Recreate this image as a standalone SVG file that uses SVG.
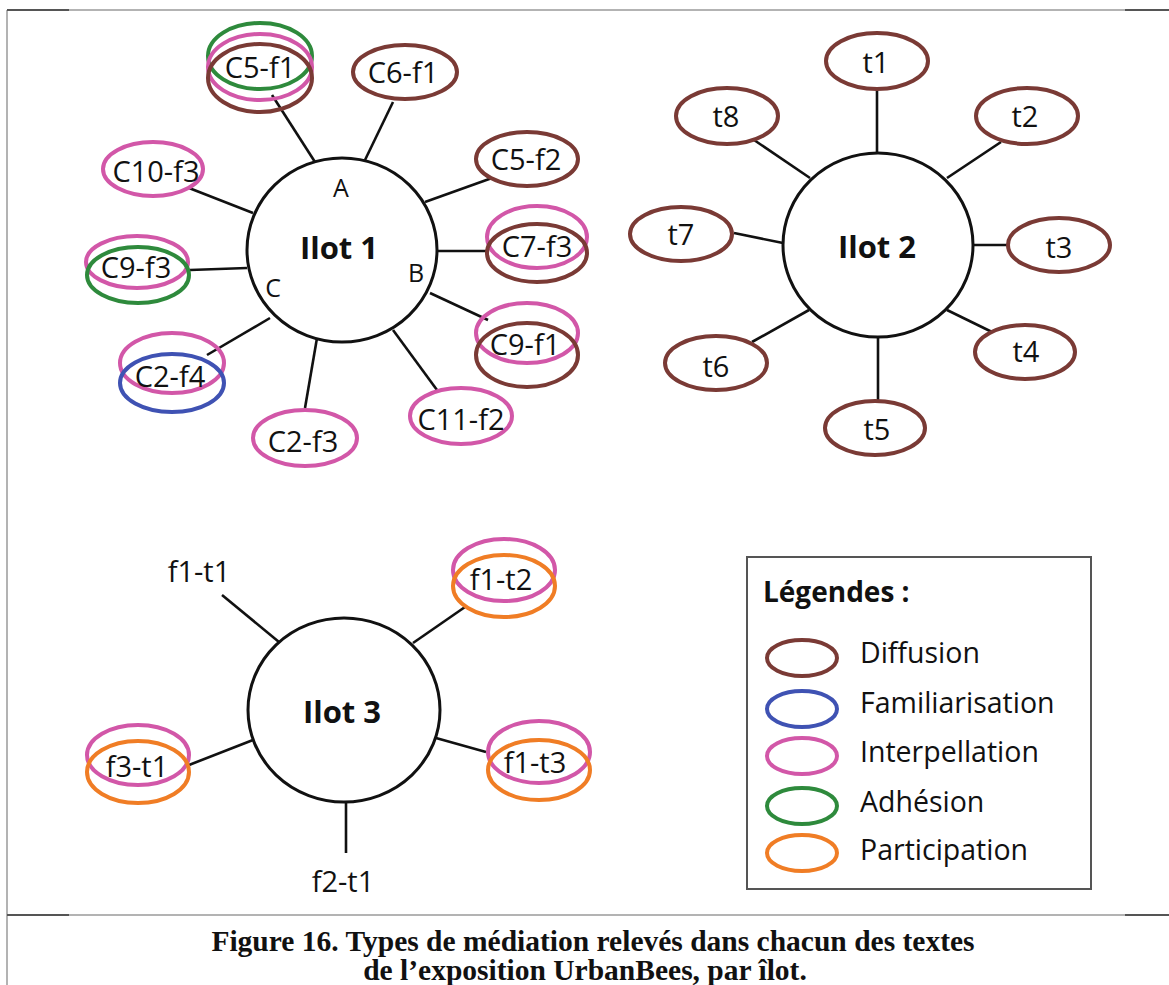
<svg xmlns="http://www.w3.org/2000/svg" width="1169" height="985" viewBox="0 0 1169 985">
<style>
.frame{stroke:#9a9a9a;stroke-width:1.5;fill:none}
.frameD{stroke:#555;stroke-width:2;fill:none}
.hub{fill:#fff;stroke:#111;stroke-width:3}
.link{stroke:#111;stroke-width:2.6;fill:none}
.e{fill:none;stroke-width:4}
.dif{stroke:#7a3a35}
.fam{stroke:#3f52b3}
.int{stroke:#d257a8}
.adh{stroke:#2e8a3c}
.par{stroke:#f07d25}
.lbl{font-family:"Open Sans","Noto Sans",sans-serif;font-size:29px;fill:#111;text-anchor:middle}
.abc{font-family:"Open Sans","Noto Sans",sans-serif;font-size:25px;fill:#111;text-anchor:middle}
.hubt{font-family:"Open Sans","Noto Sans",sans-serif;font-size:31px;font-weight:bold;fill:#111;text-anchor:middle}
.leg{font-family:"Open Sans","Noto Sans",sans-serif;font-size:28.5px;fill:#111}
.legt{font-family:"Open Sans","Noto Sans",sans-serif;font-size:28px;font-weight:bold;fill:#111}
.cap{font-family:"Liberation Serif","Times New Roman",serif;font-size:29.5px;font-weight:bold;fill:#111;text-anchor:middle}
</style>
<rect width="1169" height="985" fill="#fff"/>
<g id="frame">
<line class="frame" x1="7" y1="10" x2="1169" y2="10"/>
<line class="frame" x1="7" y1="10" x2="7" y2="985"/>
<line class="frame" x1="7" y1="915" x2="1169" y2="915"/>
<line class="frameD" x1="7" y1="10" x2="69" y2="10"/>
<line class="frameD" x1="1125" y1="10" x2="1169" y2="10"/>
<line class="frameD" x1="7" y1="915" x2="69" y2="915"/>
<line class="frameD" x1="1125" y1="915" x2="1169" y2="915"/>
</g>
<g id="connectors">
<line class="link" x1="272" y1="95" x2="315" y2="162"/>
<line class="link" x1="393" y1="102" x2="365" y2="160"/>
<line class="link" x1="492" y1="178" x2="425" y2="202"/>
<line class="link" x1="189" y1="188" x2="253" y2="213"/>
<line class="link" x1="437" y1="251" x2="487" y2="251"/>
<line class="link" x1="190" y1="270" x2="247" y2="268"/>
<line class="link" x1="430" y1="293" x2="488" y2="320"/>
<line class="link" x1="207" y1="355" x2="270" y2="318"/>
<line class="link" x1="305" y1="408" x2="317" y2="338"/>
<line class="link" x1="437" y1="390" x2="393" y2="330"/>
<line class="link" x1="877" y1="90" x2="877" y2="153"/>
<line class="link" x1="754" y1="140" x2="810" y2="178"/>
<line class="link" x1="1001" y1="142" x2="947" y2="178"/>
<line class="link" x1="734" y1="233" x2="783" y2="243"/>
<line class="link" x1="974" y1="245" x2="1008" y2="245"/>
<line class="link" x1="752" y1="342" x2="809" y2="310"/>
<line class="link" x1="947" y1="310" x2="992" y2="332"/>
<line class="link" x1="878" y1="337" x2="878" y2="400"/>
<line class="link" x1="222" y1="595" x2="279" y2="642"/>
<line class="link" x1="465" y1="607" x2="413" y2="643"/>
<line class="link" x1="189" y1="765" x2="253" y2="740"/>
<line class="link" x1="436" y1="738" x2="486" y2="752"/>
<line class="link" x1="346" y1="803" x2="346" y2="853"/>
</g>
<g id="ilot1">
<ellipse class="hub" cx="342" cy="250" rx="95" ry="92"/>
<text class="hubt" x="339" y="259">Ilot 1</text>
<text class="abc" x="341" y="197">A</text>
<text class="abc" x="416" y="282">B</text>
<text class="abc" x="273" y="297">C</text>
</g>
<g id="C5-f1">
<ellipse class="e adh" cx="260" cy="56" rx="52" ry="33"/>
<ellipse class="e int" cx="260" cy="67" rx="52" ry="33"/>
<ellipse class="e dif" cx="260" cy="78" rx="52" ry="34"/>
<text class="lbl" x="260" y="78">C5-f1</text>
</g>
<g id="C6-f1">
<ellipse class="e dif" cx="405" cy="72" rx="52" ry="27"/>
<text class="lbl" x="403" y="83">C6-f1</text>
</g>
<g id="C5-f2">
<ellipse class="e dif" cx="527" cy="159" rx="51" ry="27"/>
<text class="lbl" x="526" y="170">C5-f2</text>
</g>
<g id="C10-f3">
<ellipse class="e int" cx="153" cy="169" rx="50" ry="27"/>
<text class="lbl" x="156" y="182">C10-f3</text>
</g>
<g id="C7-f3">
<ellipse class="e int" cx="537" cy="237" rx="50" ry="31"/>
<ellipse class="e dif" cx="537" cy="253" rx="50" ry="29"/>
<text class="lbl" x="537" y="257">C7-f3</text>
</g>
<g id="C9-f3">
<ellipse class="e int" cx="137" cy="262" rx="51" ry="26"/>
<ellipse class="e adh" cx="138" cy="275" rx="51" ry="28"/>
<text class="lbl" x="136" y="278">C9-f3</text>
</g>
<g id="C9-f1">
<ellipse class="e int" cx="527" cy="333" rx="51" ry="30"/>
<ellipse class="e dif" cx="527" cy="355" rx="51" ry="32"/>
<text class="lbl" x="525" y="355">C9-f1</text>
</g>
<g id="C2-f4">
<ellipse class="e int" cx="172" cy="363" rx="52" ry="30"/>
<ellipse class="e fam" cx="172" cy="383" rx="52" ry="29"/>
<text class="lbl" x="170" y="387">C2-f4</text>
</g>
<g id="C2-f3">
<ellipse class="e int" cx="305" cy="438" rx="52" ry="28"/>
<text class="lbl" x="303" y="452">C2-f3</text>
</g>
<g id="C11-f2">
<ellipse class="e int" cx="461" cy="416" rx="51" ry="28"/>
<text class="lbl" x="461" y="430">C11-f2</text>
</g>
<g id="ilot2">
<ellipse class="hub" cx="878" cy="245" rx="95" ry="92"/>
<text class="hubt" x="877" y="258">Ilot 2</text>
</g>
<g id="t1"><ellipse class="e dif" cx="877" cy="61" rx="51" ry="28"/><text class="lbl" x="876" y="73">t1</text></g>
<g id="t2"><ellipse class="e dif" cx="1027" cy="116" rx="51" ry="28"/><text class="lbl" x="1025" y="127">t2</text></g>
<g id="t3"><ellipse class="e dif" cx="1059" cy="245" rx="51" ry="27"/><text class="lbl" x="1059" y="258">t3</text></g>
<g id="t4"><ellipse class="e dif" cx="1025" cy="352" rx="50" ry="27"/><text class="lbl" x="1026" y="362">t4</text></g>
<g id="t5"><ellipse class="e dif" cx="875" cy="428" rx="50" ry="27"/><text class="lbl" x="877" y="440">t5</text></g>
<g id="t6"><ellipse class="e dif" cx="716" cy="363" rx="51" ry="27"/><text class="lbl" x="716" y="377">t6</text></g>
<g id="t7"><ellipse class="e dif" cx="681" cy="234" rx="51" ry="27"/><text class="lbl" x="681" y="245">t7</text></g>
<g id="t8"><ellipse class="e dif" cx="727" cy="116" rx="51" ry="28"/><text class="lbl" x="726" y="127">t8</text></g>
<g id="ilot3">
<ellipse class="hub" cx="344" cy="710" rx="96" ry="92"/>
<text class="hubt" x="342" y="723">Ilot 3</text>
</g>
<g id="f1-t1"><text class="lbl" x="199" y="582">f1-t1</text></g>
<g id="f1-t2">
<ellipse class="e int" cx="504" cy="570" rx="51" ry="31"/>
<ellipse class="e par" cx="504" cy="586" rx="51" ry="31"/>
<text class="lbl" x="501" y="590">f1-t2</text>
</g>
<g id="f3-t1">
<ellipse class="e int" cx="138" cy="755" rx="51" ry="30"/>
<ellipse class="e par" cx="138" cy="772" rx="51" ry="31"/>
<text class="lbl" x="137" y="777">f3-t1</text>
</g>
<g id="f1-t3">
<ellipse class="e int" cx="539" cy="752" rx="51" ry="31"/>
<ellipse class="e par" cx="539" cy="770" rx="51" ry="30"/>
<text class="lbl" x="535" y="773">f1-t3</text>
</g>
<g id="f2-t1"><text class="lbl" x="343" y="892">f2-t1</text></g>
<g id="legend">
<rect x="747" y="557" width="344" height="332" fill="#fff" stroke="#555" stroke-width="2"/>
<text class="legt" x="763" y="602">Légendes :</text>
<ellipse class="e dif" cx="802" cy="658" rx="35" ry="18"/>
<text class="leg" x="860" y="663">Diffusion</text>
<ellipse class="e fam" cx="802" cy="709" rx="35" ry="18"/>
<text class="leg" x="860" y="713">Familiarisation</text>
<ellipse class="e int" cx="802" cy="756" rx="35" ry="18"/>
<text class="leg" x="860" y="762">Interpellation</text>
<ellipse class="e adh" cx="802" cy="806" rx="35" ry="18"/>
<text class="leg" x="860" y="812">Adhésion</text>
<ellipse class="e par" cx="802" cy="853" rx="35" ry="18"/>
<text class="leg" x="860" y="860">Participation</text>
</g>
<g id="caption">
<text class="cap" x="593" y="951">Figure 16. Types de médiation relevés dans chacun des textes</text>
<text class="cap" x="585" y="980">de l’exposition UrbanBees, par îlot.</text>
</g>
</svg>
